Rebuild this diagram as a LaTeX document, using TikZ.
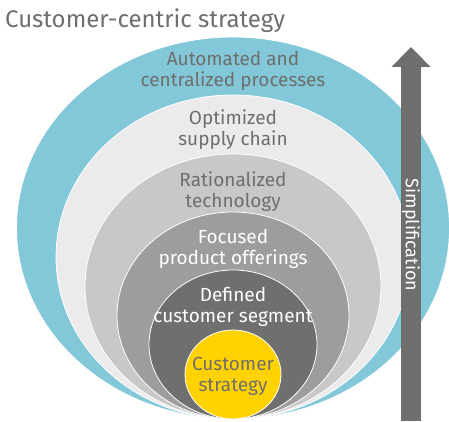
\documentclass[tikz,border=0pt]{standalone}
\usepackage{fontspec}
\setmainfont{Fira Sans}
\usetikzlibrary{shapes.geometric,positioning,arrows.meta}

\definecolor{eyblue}{HTML}{82C8D9}
\definecolor{greyA}{HTML}{EBEBEB}
\definecolor{greyB}{HTML}{C8C8C7}
\definecolor{greyC}{HTML}{9D9D9C}
\definecolor{greyD}{HTML}{6F6F6E}
\definecolor{eyyellow}{HTML}{FFD200}
\definecolor{txtgrey}{HTML}{6E6E6D}

\tikzstyle{layer}=[ellipse,draw=white,line width=0.8pt,anchor=south,inner sep=0pt,outer sep=0pt]
\tikzstyle{tag}=[align=center,inner sep=0pt,font=\fontsize{19}{21}\selectfont,text=txtgrey]
\tikzstyle{point}=[coordinate,on grid]

\begin{document}
\begin{tikzpicture}[x=1pt,y=1pt]
  \useasboundingbox (0,0) rectangle (449,421);
  %所有椭圆都压在同一个底点上
  \node[point] (base) at (233,2) {};
  \node[anchor=base west,inner sep=0pt,text=txtgrey,font=\fontsize{24}{26}\selectfont] (title) at (5,393) {Customer-centric strategy};
  \node[layer,fill=eyblue,minimum width=433pt,minimum height=382pt] (process) at (base) {};
  \node[layer,fill=greyA,minimum width=354pt,minimum height=324pt] (supply) at (base) {};
  \node[layer,fill=greyB,minimum width=296pt,minimum height=265pt] (techno) at (base) {};
  \node[layer,fill=greyC,minimum width=232pt,minimum height=207pt] (product) at (base) {};
  \node[layer,fill=greyD,minimum width=168pt,minimum height=149pt] (segment) at (base) {};
  \node[layer,fill=eyyellow,minimum width=96pt,minimum height=89pt] (strategy) at (base) {};
  %文字放在每层椭圆的顶部下方
  \node[tag,below=14pt of process.north] (processtxt) {Automated and\\centralized processes};
  \node[tag,below=14pt of supply.north] (supplytxt) {Optimized\\supply chain};
  \node[tag,below=17pt of techno.north] (technotxt) {Rationalized\\technology};
  \node[tag,below=17pt of product.north,text=white] (producttxt) {Focused\\product offerings};
  \node[tag,below=17pt of segment.north,text=white] (segmenttxt) {Defined\\customer segment};
  \node[tag,below=27pt of strategy.north] (strategytxt) {Customer\\strategy};
  %右侧箭头
  \node[point] (foot) at (411,0) {};
  \node[point] (tip) at (411,374) {};
  \draw[draw=greyD,line width=20pt,-{Triangle[width=38pt,length=20pt,fill=greyD]}] (foot)--(tip);
  \node[rotate=-90,inner sep=0pt,text=white,font=\fontsize{18}{20}\selectfont] (simple) at (411,186) {Simplification};
\end{tikzpicture}
\end{document}
